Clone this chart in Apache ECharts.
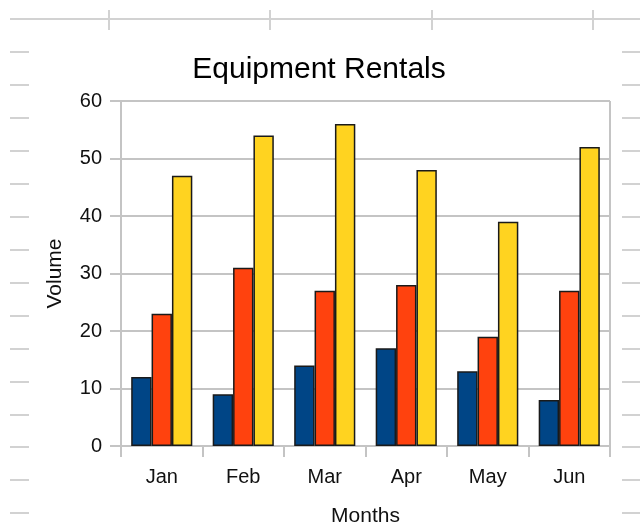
<!DOCTYPE html>
<html>
<head>
<meta charset="utf-8">
<script src="https://cdn.jsdelivr.net/npm/echarts@6/dist/echarts.min.js"></script>
<style>
  html, body { margin: 0; padding: 0; background: #fff; }
  #chart { width: 640px; height: 524px; }
</style>
</head>
<body>
<div id="chart"></div>
<script>
const months = ['Jan', 'Feb', 'Mar', 'Apr', 'May', 'Jun'];
const seriesA = [12, 9, 14, 17, 13, 8];
const seriesB = [23, 31, 27, 28, 19, 27];
const seriesC = [47, 54, 56, 48, 39, 52];
const yTicks = [0, 10, 20, 30, 40, 50, 60];

const FONT = '"Liberation Sans", Arial, sans-serif';
const GRID_GRAY = '#c4c4c4';
const SHEET_GRAY = '#d2d2d2';

// spreadsheet furniture behind the chart
const sheetRows = [52, 85, 118, 151, 184, 217, 250, 283, 316, 349, 382, 415, 447, 480, 513];
const sheetCols = [109, 270, 432, 593];
const decor = [
  { type: 'line', shape: { x1: 10, y1: 19, x2: 640, y2: 19 }, style: { stroke: SHEET_GRAY, lineWidth: 2 } },
];
sheetCols.forEach((x) => {
  decor.push({ type: 'line', shape: { x1: x, y1: 10, x2: x, y2: 30 }, style: { stroke: SHEET_GRAY, lineWidth: 2 } });
});
sheetRows.forEach((y) => {
  decor.push({ type: 'line', shape: { x1: 10, y1: y, x2: 29, y2: y }, style: { stroke: SHEET_GRAY, lineWidth: 2 } });
  decor.push({ type: 'line', shape: { x1: 622, y1: y, x2: 640, y2: y }, style: { stroke: SHEET_GRAY, lineWidth: 2 } });
});
// right border of the plot area
decor.push({ type: 'line', shape: { x1: 610, y1: 101, x2: 610, y2: 446 }, style: { stroke: GRID_GRAY, lineWidth: 2 } });

const barStyle = (color) => ({ color, borderColor: '#1a1a1a', borderWidth: 1.5 });

const chart = echarts.init(document.getElementById('chart'));
chart.setOption({
  animation: false,
  backgroundColor: '#fff',
  graphic: decor,
  title: {
    text: 'Equipment Rentals',
    left: 314,
    top: 50,
    textAlign: 'center',
    textStyle: { fontFamily: FONT, fontSize: 30, fontWeight: 'normal', color: '#000' },
  },
  grid: { left: 121, right: 30, top: 101, bottom: 78, containLabel: false, outerBoundsMode: 'none' },
  xAxis: {
    type: 'category',
    data: months,
    name: 'Months',
    nameLocation: 'middle',
    nameGap: 60,
    nameTextStyle: { fontFamily: FONT, fontSize: 21, color: '#111' },
    axisLine: { lineStyle: { color: GRID_GRAY, width: 2 } },
    axisTick: { show: true, length: 11, alignWithLabel: false, lineStyle: { color: GRID_GRAY, width: 2 } },
    axisLabel: { fontFamily: FONT, fontSize: 20, color: '#111', margin: 21 },
  },
  yAxis: {
    type: 'value',
    min: yTicks[0],
    max: yTicks[yTicks.length - 1],
    interval: 10,
    name: 'Volume',
    nameLocation: 'middle',
    nameGap: 55,
    nameTextStyle: { fontFamily: FONT, fontSize: 21, color: '#111' },
    axisLine: { show: true, lineStyle: { color: GRID_GRAY, width: 2 } },
    axisTick: { show: true, length: 11, lineStyle: { color: GRID_GRAY, width: 2 } },
    axisLabel: { fontFamily: FONT, fontSize: 20, color: '#111', margin: 19 },
    splitLine: { lineStyle: { color: GRID_GRAY, width: 2 } },
  },
  series: [
    { type: 'bar', data: seriesA, barGap: '0%', barCategoryGap: '25%', itemStyle: barStyle('#004586') },
    { type: 'bar', data: seriesB, barGap: '0%', barCategoryGap: '25%', itemStyle: barStyle('#ff420e') },
    { type: 'bar', data: seriesC, barGap: '0%', barCategoryGap: '25%', itemStyle: barStyle('#ffd320') },
  ],
});
</script>
</body>
</html>
